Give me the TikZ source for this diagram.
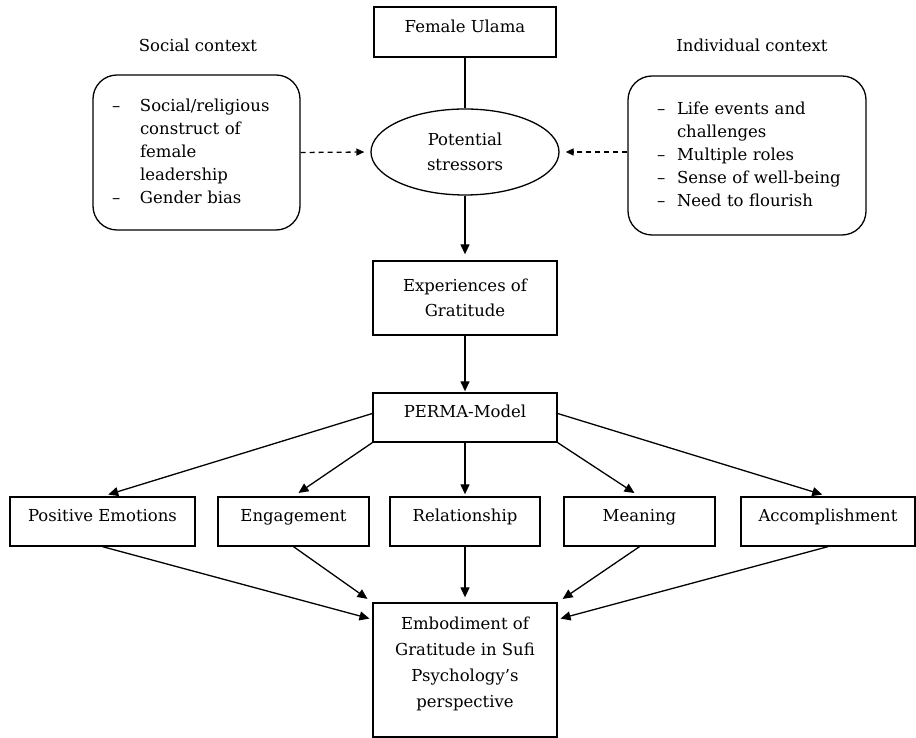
\documentclass[tikz,border=0pt]{standalone}
\usepackage{fontspec}
\setmainfont{DejaVu Serif}
\usetikzlibrary{calc,shapes.geometric,arrows.meta}

\tikzset{
    plainbox/.style={draw,line width=1.3pt,align=center,inner sep=2pt},
    rowbox/.style={plainbox,text height=11pt,text depth=10pt},
    ctxbox/.style={draw,line width=1.3pt,rounded corners=24pt,align=left,
        font=\fontsize{16.5pt}{23pt}\selectfont},
    flow/.style={line width=1.3pt,-{Triangle[length=10pt,width=9pt]}},
    hint/.style={line width=1.3pt,dash pattern=on 5pt off 4pt,
        -{Triangle[length=8pt,width=7pt]},shorten >=6pt}
}

\begin{document}
\begin{tikzpicture}[x=1pt,y=1pt,font=\fontsize{16.5pt}{25pt}\selectfont]

    \useasboundingbox (0,0) rectangle (916,738);

    \node[rowbox,minimum width=182pt,minimum height=50pt] (ulama) at (465,706) {Female Ulama};
    \node (soclabel) at (198,693) {Social context};
    \node (indlabel) at (752,693) {Individual context};

    \node[ctxbox,minimum height=155pt,text width=169pt,inner xsep=19pt] (social) at (196.5,585.5)
        {\begin{tabular}{@{}p{20pt}@{\hspace{8pt}}l@{}}
            – & Social/religious\\
              & construct of\\
              & female\\
              & leadership\\
            – & Gender bias
         \end{tabular}};
    \node[ctxbox,minimum height=159pt,text width=180pt,inner xsep=29pt] (indiv) at (747,582.5)
        {\begin{tabular}{@{}p{12pt}@{\hspace{8pt}}l@{}}
            – & Life events and\\
              & challenges\\
            – & Multiple roles\\
            – & Sense of well-being\\
            – & Need to flourish
         \end{tabular}};

    \node[draw,ellipse,line width=1.3pt,minimum width=188pt,minimum height=86pt,align=center]
        (stressors) at (465,586) {Potential\\stressors};

    \node[plainbox,minimum width=184pt,minimum height=74pt] (gratitude) at (465,440) {Experiences of\\Gratitude};
    \node[rowbox,minimum width=184pt,minimum height=49pt] (perma) at (465,320.5) {PERMA-Model};

    \node[rowbox,minimum width=185pt,minimum height=49pt] (emotion) at (102.5,216.5) {Positive Emotions};
    \node[rowbox,minimum width=151pt,minimum height=49pt] (engage) at (293.5,216.5) {Engagement};
    \node[rowbox,minimum width=150pt,minimum height=49pt] (relation) at (465,216.5) {Relationship};
    \node[rowbox,minimum width=151pt,minimum height=49pt] (meaning) at (639.5,216.5) {Meaning};
    \node[rowbox,minimum width=174pt,minimum height=49pt] (accomp) at (828,216.5) {Accomplishment};

    \node[plainbox,minimum width=184pt,minimum height=134pt] (embody) at (465,68) {};
    \node[align=center,inner sep=0pt,anchor=north,font=\fontsize{16.5pt}{26pt}\selectfont]
        (embodytext) at ($(embody.north)+(0,-14)$)
        {Embodiment of\\Gratitude in Sufi\\Psychology’s\\perspective};

    \draw [line width=1.3pt] (ulama.south) -- (stressors.north);
    \draw [hint] (social.east) -- (stressors.west);
    \draw [hint] (indiv.west |- stressors.east) -- (stressors.east);
    \draw [flow,shorten >=6pt] (stressors.south) -- (gratitude.north);
    \draw [flow,shorten >=1pt] (gratitude.south) -- (perma.north);

    \draw [flow,shorten >=6pt] ($(perma.west)+(0,4)$) -- (emotion.north);
    \draw [flow,shorten >=6pt] (perma.south west) -- (engage.north);
    \draw [flow,shorten >=2pt] (perma.south) -- (relation.north);
    \draw [flow,shorten >=6pt] (perma.south east) -- (meaning.north);
    \draw [flow,shorten >=6pt] ($(perma.east)+(0,4)$) -- (accomp.north);

    \draw [flow,shorten >=3pt] (emotion.south) -- ($(embody.north west)+(0,-17)$);
    \draw [flow,shorten >=6pt] (engage.south) -- (embody.north west);
    \draw [flow,shorten >=5pt] (relation.south) -- (embody.north);
    \draw [flow,shorten >=6pt] (meaning.south) -- (embody.north east);
    \draw [flow,shorten >=3pt] (accomp.south) -- ($(embody.north east)+(0,-17)$);

\end{tikzpicture}
\end{document}
